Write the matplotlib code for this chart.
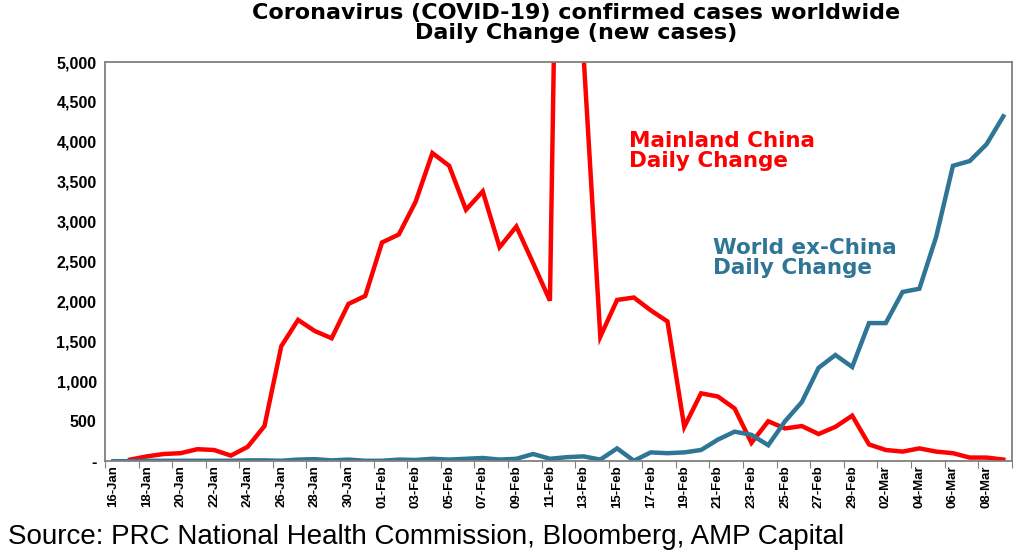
import datetime as dt

import numpy as np
import matplotlib
matplotlib.use('Agg')
import matplotlib.pyplot as plt
from matplotlib.ticker import FuncFormatter

start = dt.date(2020, 1, 16)
dates = [start + dt.timedelta(days=i) for i in range(54)]
date_labels = [d.strftime('%d-%b') for d in dates]

china = [np.nan, 20, 60, 90, 100, 150, 140, 70, 180, 440, 1440, 1770, 1630, 1540,
         1970, 2070, 2740, 2840, 3250, 3860, 3700, 3150, 3380, 2680, 2940, 2480,
         2010, 15150, 5090, 1560, 2020, 2050, 1890, 1750, 430, 850, 810, 660, 230,
         500, 410, 440, 340, 430, 570, 210, 140, 120, 160, 120, 100, 45, 45, 20]
world = [0, 0, 5, 5, 5, 5, 5, 5, 10, 10, 5, 20, 25, 10, 20, 5, 5, 20, 15, 30,
         20, 30, 40, 20, 30, 90, 30, 50, 60, 20, 160, 5, 110, 100, 110, 140, 270,
         370, 330, 200, 500, 740, 1170, 1330, 1180, 1730, 1730, 2120, 2160, 2810,
         3700, 3760, 3970, 4320]

red = '#ff0000'
blue = '#2e7596'

fig = plt.figure(figsize=(10.24, 5.59), dpi=100)
ax = fig.add_axes([0.1025, 0.175, 0.8855, 0.714])
x = np.arange(len(dates)) + 0.5
ax.plot(x, china, color=red, lw=3.2, solid_joinstyle='miter')
ax.plot(x, world, color=blue, lw=3.2, solid_joinstyle='miter')

ax.set_xlim(0, len(dates))
ax.set_ylim(0, 5000)
ax.set_yticks(np.arange(0, 5001, 500))
ax.yaxis.set_major_formatter(FuncFormatter(lambda v, p: '-' if v == 0 else '{:,.0f}'.format(v)))
ax.set_xticks(np.arange(0, len(dates) + 1, 2))
ax.set_xticklabels([])
ax.set_xticks(x[::2], minor=True)
ax.set_xticklabels(date_labels[::2], minor=True, rotation=90, fontsize=9.5,
                   fontweight='bold', family='Liberation Sans')
ax.tick_params(axis='x', which='minor', length=0, pad=3)
ax.tick_params(axis='x', which='major', length=5, direction='out', color='#808080')
ax.tick_params(axis='y', length=0, labelsize=11.5, pad=6)
for t in ax.get_yticklabels():
    t.set_fontweight('bold')
    t.set_family('Liberation Sans')
for s in ax.spines.values():
    s.set_color('#808080')
    s.set_linewidth(1.3)

ax.text(31.2, 4130, 'Mainland China\nDaily Change', color=red, fontsize=15.5,
        fontweight='bold', family='DejaVu Sans', linespacing=1.0, va='top')
ax.text(36.2, 2800, 'World ex-China\nDaily Change', color=blue, fontsize=15.5,
        fontweight='bold', family='DejaVu Sans', linespacing=1.0, va='top')

fig.text(0.563, 0.995, 'Coronavirus (COVID-19) confirmed cases worldwide\nDaily Change (new cases)',
         ha='center', va='top', fontsize=16, fontweight='bold', family='DejaVu Sans',
         linespacing=1.0)
fig.text(0.008, 0.04, 'Source: PRC National Health Commission, Bloomberg, AMP Capital',
         fontsize=20, family='Liberation Sans', va='center')

fig.savefig('out.png', dpi=100)
plt.close(fig)
